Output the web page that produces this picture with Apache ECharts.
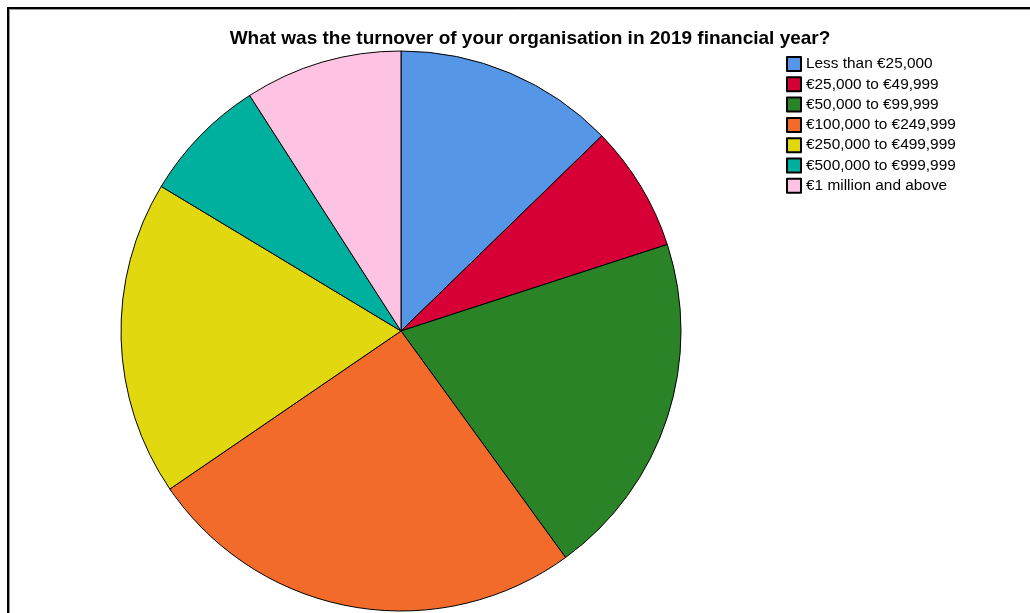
<!DOCTYPE html>
<html>
<head>
<meta charset="utf-8">
<script src="https://cdn.jsdelivr.net/npm/echarts@6/dist/echarts.min.js"></script>
<style>
  html, body { margin: 0; padding: 0; background: #fff; }
  #chart { width: 1030px; height: 613px; }
</style>
</head>
<body>
<div id="chart"></div>
<script>
// Turnover bands and number of responding organisations in each
const categories = [
  'Less than €25,000',
  '€25,000 to €49,999',
  '€50,000 to €99,999',
  '€100,000 to €249,999',
  '€250,000 to €499,999',
  '€500,000 to €999,999',
  '€1 million and above'
];
const counts = [7, 4, 11, 14, 10, 4, 5];
const colors = ['#5596e6', '#d60036', '#2a8427', '#f36b2b', '#e2d810', '#00b09f', '#fec3e3'];

const chart = echarts.init(document.getElementById('chart'), null, { renderer: 'canvas' });

chart.setOption({
  animation: false,
  backgroundColor: '#ffffff',
  title: {
    text: 'What was the turnover of your organisation in 2019 financial year?',
    left: 525,
    textAlign: 'center',
    top: 24,
    textStyle: { fontFamily: 'Liberation Sans, Arial, sans-serif', fontSize: 19, fontWeight: 'bold', color: '#000' }
  },
  legend: {
    orient: 'vertical',
    left: 786,
    top: 56,
    padding: 0,
    itemWidth: 14,
    itemHeight: 14,
    itemGap: 4.3,
    icon: 'rect',
    selectedMode: false,
    textStyle: { fontFamily: 'Liberation Sans, Arial, sans-serif', fontSize: 15.4, color: '#000' },
    data: categories
  },
  graphic: [
    { type: 'line', shape: { x1: 7, y1: 8, x2: 1030, y2: 8 }, style: { stroke: '#000', lineWidth: 2 } },
    { type: 'line', shape: { x1: 8, y1: 7, x2: 8, y2: 613 }, style: { stroke: '#000', lineWidth: 2 } },
    { type: 'line', shape: { x1: 9, y1: 9.5, x2: 1030, y2: 9.5 }, style: { stroke: '#999', lineWidth: 1 } },
    { type: 'line', shape: { x1: 9.5, y1: 9, x2: 9.5, y2: 613 }, style: { stroke: '#999', lineWidth: 1 } }
  ],
  series: [{
    type: 'pie',
    center: [401, 331],
    radius: 280,
    startAngle: 90,
    clockwise: true,
    label: { show: false },
    labelLine: { show: false },
    emphasis: { disabled: true },
    itemStyle: { borderColor: '#000', borderWidth: 1 },
    data: categories.map((name, i) => ({
      name: name,
      value: counts[i],
      itemStyle: { color: colors[i] }
    }))
  }]
});
</script>
</body>
</html>
